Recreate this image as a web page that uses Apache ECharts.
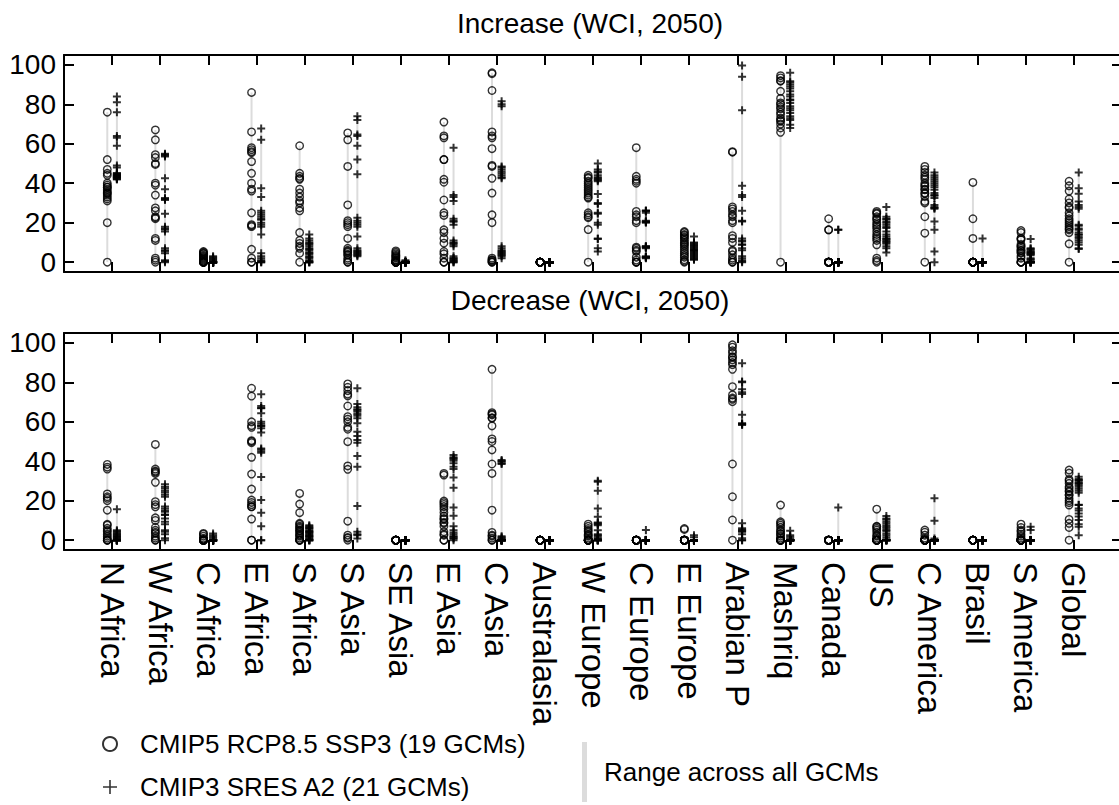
<!DOCTYPE html>
<html>
<head>
<meta charset="utf-8">
<script src="https://cdn.jsdelivr.net/npm/echarts@6/dist/echarts.min.js"></script>
<style>html,body{margin:0;padding:0;background:#fff}#chart{width:1119px;height:805px}</style>
</head>
<body>
<div id="chart"></div>
<script>
// ---------------- data ----------------
const regions = ['N Africa','W Africa','C Africa','E Africa','S Africa','S Asia','SE Asia','E Asia','C Asia','Australasia','W Europe','C Europe','E Europe','Arabian P','Mashriq','Canada','US','C America','Brasil','S America','Global'];
const yTicks = [0, 20, 40, 60, 80, 100];
const nameC5 = 'CMIP5 RCP8.5 SSP3 (19 GCMs)';
const nameC3 = 'CMIP3 SRES A2 (21 GCMs)';
const nameRange = 'Range across all GCMs';

// Increase (WCI, 2050) - CMIP5, 19 GCMs per region
const incCMIP5 = [
  [76,52,47,45,44,40,39,38,38,37,36,35,35,34,33,32,31,20,0],
  [67,62,54.5,53,50,49.5,40,39,34,27.5,26,23,22.5,22,12,11,2,1,0],
  [5.4,5,4.5,4.2,3.5,3,2.5,2,1.5,1,0.5,0,0,0,0,0,0,0,0],
  [86,66,58,57,56,55.5,51,45,40,37,36,25,19,18.5,18,6.5,2,0,0],
  [59,45,43.5,42.5,42,37,35,33,31,30,27.5,26,15,11,9.5,8,7,4.5,0],
  [65.5,62,48.5,29,21,20,19,18,12,7,6,5.5,5,4,3.5,2,1,0,0],
  [5.7,5,4.2,3.5,3,2.5,2,1.2,1,0.5,0,0,0,0,0,0,0,0,0],
  [71,64,63,52,52,42,40.5,31.5,25,23.7,16.4,15,12,9.6,5.4,4.2,2,0,0],
  [96,95.5,87,66,64,63,57.5,49,48.5,42.5,35,24,20,2,1.2,1,0.5,0,0],
  [0,0,0,0,0,0,0,0,0,0,0,0,0,0,0,0,0,0,0],
  [44,43,42.5,41,40,39,38,37,36,35,34,33,32.5,25,24,23,22.5,16.5,0],
  [58,43.5,42,41,40,25.7,24,23,21,20,7.6,7,6,5.4,2.5,1,0,0,0],
  [15.5,15,14,13.5,12.7,12,11,10,9.3,8.5,7.6,6.5,5.4,4.5,3.4,2.5,1.2,0.5,0],
  [56,55.7,28,27,25.7,24,23,21,20,13.4,12,10,6,5.4,3.7,2,1,0,0],
  [94.5,93.4,92,91.7,86.6,83,80.7,80,78.7,77.7,76,74.8,73,72,71.4,70,68,65.8,0],
  [22,16.4,16.4,0,0,0,0,0,0,0,0,0,0,0,0,0,0,0,0],
  [25.7,25,24.5,23,22,21.5,20,19,18,17,15.5,14,13,12,11,8.8,2,0.8,0],
  [48.5,47,45.5,44,43,42,40,39,38.4,37,36.7,35,34.7,33.3,30.8,30,23,14.7,0],
  [40.4,22,12,0,0,0,0,0,0,0,0,0,0,0,0,0,0,0,0],
  [16,15,12,12,11.3,9,8,8,7,6,5.9,5,4.6,3,2,0,0,0,0],
  [41,38.7,36,32,30,28,27.4,25,23.5,22,21,20,19,18,17,16.4,15,9.3,0]
];
// Increase (WCI, 2050) - CMIP3, 21 GCMs per region
const incCMIP3 = [
  [84,81,76,64,63,59,49,48,45,45,44.5,44,44,43.5,43,43,43,42.5,42,42,44],
  [55,54.5,54,53.5,42.5,37,32.5,32,31.5,24.5,18,17,16.5,15.5,7,6,5.5,4.5,1,0.5,0],
  [3,2.5,2,1.5,1,0.5,0,0,0,0,0,0,0,0,0,0,0,0,0,0,0],
  [67.7,62,37.5,33,26,25,24,23,22,21.5,20,19,18,14,4.5,3,2,1,0.5,0,0],
  [14,12,11,10,9.5,9,8,7,6.5,6,5,4.5,4,3,2.5,2,1,0.5,0,0,0],
  [74,72,64.7,64,59,52,44.5,22.5,21,20,19,18,13,7,6,5.5,5,4.5,4,3.5,3],
  [1,0.5,0,0,0,0,0,0,0,0,0,0,0,0,0,0,0,0,0,0,0],
  [58,34,33,31,22,21,20.5,19,11,10,9.6,9,8,3,2,2,1.2,1,0.5,0,0],
  [81.5,80,79,48.5,48,47,46,45,44,43,42.5,8,7,6,5.5,5,4.5,4,3.5,3,2],
  [0,0,0,0,0,0,0,0,0,0,0,0,0,0,0,0,0,0,0,0,0],
  [50,47,46,45.5,44,43,42.5,42,41.5,41,34.5,30,29.5,25,24.5,20,19,12,11.7,7,5.4],
  [26,26,25,21,20.5,20.5,20,8,8,7.6,7.6,7,3,2.5,2.5,2.5,2.5,2,20.5,26,7.6],
  [13,10,9.6,9,8.5,8,7.5,7,6.5,6,6,5.5,5,4.5,4,3.5,3,2.5,2,1.5,1.2],
  [99.7,94,77,38.7,34,33,26,21,20.6,12,11,10.5,9,8.8,7,6,3,2,1,0.3,0],
  [96,91.7,91,90,89,88,86.6,85,84,82.4,82,80.7,79,78,77,75.6,74,73,72,69.7,68],
  [16.4,16.4,0,0,0,0,0,0,0,0,0,0,0,0,0,0,0,0,0,0,0],
  [28,23,22,21.8,20.6,20,19,18,17.3,15.5,14,13,12,11.7,11,10.5,10,9.3,8,7,4.9],
  [45.5,44,43,42,41,40,39,38,36.7,35,34,33.7,32.5,29,28,27.4,27,20.6,16.4,5.4,0],
  [12,0,0,0,0,0,0,0,0,0,0,0,0,0,0,0,0,0,0,0,0],
  [11.7,7,6.6,6,5.4,5,4.8,4.2,4,3.5,2,1.5,1,0,0,0,0,0,0,0,0],
  [45.5,37.5,34.7,30.8,29,28,27,19,18.4,17,16.4,15,14,13.9,12.7,12,11,10,8.8,7,6.6]
];
// Decrease (WCI, 2050) - CMIP5, 19 GCMs per region
const decCMIP5 = [
  [38.4,37,36,23.4,22,21.2,20,15.2,8,7.6,6,5,4.2,3,2,1,0,0,0],
  [48.5,36,35,34.5,33.8,29.3,19.5,18,16.9,11.3,10,6.4,5,4,3.4,2,1,0,0],
  [3.4,3,2,1,0.5,0,0,0,0,0,0,0,0,0,0,0,0,0,0],
  [77,73,60,58,57.2,50.4,50,49.4,42,33.5,25.9,20.3,19.1,18,17,16.9,10.7,0,0],
  [23.7,18.3,13.9,8.5,8,7.1,6.5,5.9,5,4.7,4,3,2.5,2,1,0,0,0,0],
  [79.2,77.5,75.8,74,73.1,68,62.6,61.3,60,57.2,56.2,49.9,37.6,35.9,9.6,2.5,1.4,1,0],
  [0,0,0,0,0,0,0,0,0,0,0,0,0,0,0,0,0,0,0],
  [33.8,33,19.8,19,18.1,17,15.7,14,12.2,11,10.5,9,8.5,7,4.2,3,2.5,0,0],
  [86.6,64.6,64,63.5,62,61.8,57.9,51.3,50,45.7,38.6,33.8,15.2,3.9,2.5,2,1,0,0],
  [0,0,0,0,0,0,0,0,0,0,0,0,0,0,0,0,0,0,0],
  [8.1,7,5.9,5,4.2,3,2.5,2,1,0,0,0,0,0,0,0,0,0,0],
  [0,0,0,0,0,0,0,0,0,0,0,0,0,0,0,0,0,0,0],
  [5.9,5.4,0,0,0,0,0,0,0,0,0,0,0,0,0,0,0,0,0],
  [99,97.8,96,94.8,93,92.7,91.4,90,89,86.6,77.8,73.6,72,71.4,70.2,38.6,22,10.2,0],
  [17.8,9.3,8.5,7.6,6.5,5.1,4.5,3.4,3,2,1,0,0,0,0,0,0,0,0],
  [0,0,0,0,0,0,0,0,0,0,0,0,0,0,0,0,0,0,0],
  [15.7,7,6.8,6,5.1,4,2.5,2,1,0,0,0,0,0,0,0,0,0,0],
  [5.1,4,2.5,1,0,0,0,0,0,0,0,0,0,0,0,0,0,0,0],
  [0,0,0,0,0,0,0,0,0,0,0,0,0,0,0,0,0,0,0],
  [8.1,6.4,5,4.2,3,2,1,0,0,0,0,0,0,0,0,0,0,0,0],
  [35.5,34,30.8,30,28.8,27,26.2,25,24.5,23,22.8,21.2,20,19,17.8,10.5,8.5,6.4,0]
];
// Decrease (WCI, 2050) - CMIP3, 21 GCMs per region
const decCMIP3 = [
  [15.7,5,4.5,4,3.4,3,2.5,2,1.7,1.2,0.8,0.5,0,0,0,0,0,0,0,0,0],
  [28.3,27,26.2,25,24.2,23,22,17,16,15,14.4,13,12.7,11,9.3,8,5,4.2,3,1,0],
  [3.4,2.5,1.7,1,0,0,0,0,0,0,0,0,0,0,0,0,0,0,0,0,0],
  [74,68,67,66.8,64.3,60,59,58,57.9,56.7,54.5,46.5,46,45,44.3,32,20.3,13.9,7.1,0,0],
  [7.6,7,6.5,6,5.9,5,4.5,4.2,4,3.5,3,2.5,2,2,1.5,0.8,0.5,0,0,0,0],
  [77,69,67.3,66.3,65.8,65.1,64,63,61.8,59.2,55,52.8,50.8,49.4,42.6,37.2,17.3,4.2,3,2.5,0.8],
  [0,0,0,0,0,0,0,0,0,0,0,0,0,0,0,0,0,0,0,0,0],
  [43.1,42,41.5,41,40.3,39,37.2,36,31.8,26.6,16.6,12.4,7.1,5,3.9,3,2,1.7,1,0.8,0],
  [40.6,40,39.8,39,38.6,2,1.5,1,0.5,0,0,0,0,0,0,0,0,0,0,0,0],
  [0,0,0,0,0,0,0,0,0,0,0,0,0,0,0,0,0,0,0,0,0],
  [30.1,29.6,25,16.1,11.8,9,8.5,8,7.6,5,3,2.5,2,1,0.8,0,0,0,0,0,0],
  [5.1,0,0,0,0,0,0,0,0,0,0,0,0,0,0,0,0,0,0,0,0],
  [2.5,1.4,0,0,0,0,0,0,0,0,0,0,0,0,0,0,0,0,0,0,0],
  [89.7,80.4,80,76.5,75,74.1,63.5,59.2,59,58.8,58.4,8.5,6,5.4,5,4.5,4.2,3,1,0,0],
  [4.7,2.5,1.7,0.8,0,0,0,0,0,0,0,0,0,0,0,0,0,0,0,0,0],
  [16.6,0,0,0,0,0,0,0,0,0,0,0,0,0,0,0,0,0,0,0,0],
  [12.2,11,10.5,9.5,8.5,7.5,6.8,6,5.1,4.5,3.4,2.5,1.5,0.5,0,0,0,0,0,0,0],
  [21.2,9.8,0.8,0,0,0,0,0,0,0,0,0,0,0,0,0,0,0,0,0,0],
  [0,0,0,0,0,0,0,0,0,0,0,0,0,0,0,0,0,0,0,0,0],
  [6.8,5.1,0,0,0,0,0,0,0,0,0,0,0,0,0,0,0,0,0,0,0],
  [32.1,31,30.5,30,29,28.8,28,27.1,26,25,24,18,17.8,16.1,15,13.5,12,10.2,8,6.8,2.5]
];

// ---------------- chart ----------------
const FONT = 'Liberation Sans, Arial, Helvetica, sans-serif';
const OFF = 0.1;               // horizontal offset of the two model sets
const xTicks = regions.map((_, i) => i + 1);
const plusPath = 'path://M3,0H5V3H8V5H5V8H3V5H0V3H3Z';
const plusLegend = 'path://M6.2,0H7.8V6.2H14V7.8H7.8V14H6.2V7.8H0V6.2H6.2Z';

function points(sets, off) {
  const out = [];
  sets.forEach((vals, i) => vals.forEach(v => out.push([i + 1 + off, v])));
  return out;
}
function ranges(sets, off) {
  return sets.map((vals, i) => [i + 1 + off, Math.min(...vals), Math.max(...vals)]);
}
function renderRange(params, api) {
  const x = api.value(0);
  const p1 = api.coord([x, api.value(1)]);
  const p2 = api.coord([x, api.value(2)]);
  return { type: 'line', shape: { x1: p1[0], y1: p1[1], x2: p2[0], y2: p2[1] },
           style: { stroke: '#dcdcdc', lineWidth: 2 } };
}

const axisLine = { show: true, onZero: false, lineStyle: { color: '#000', width: 2 } };
const tick = (vals) => ({ show: true, inside: true, length: 10, customValues: vals,
                          lineStyle: { color: '#000', width: 2 } });

function xAxis(grid, pos, labels) {
  return {
    type: 'value', gridIndex: grid, position: pos, min: 0, max: 22,
    axisLine, axisTick: tick(xTicks), splitLine: { show: false },
    axisLabel: labels ? {
      show: true, customValues: xTicks, rotate: -90, margin: 12,
      fontSize: 33, fontFamily: FONT, color: '#000',
      formatter: v => regions[Math.round(v) - 1] || ''
    } : { show: false }
  };
}
function yAxis(grid, pos, labels) {
  return {
    type: 'value', gridIndex: grid, position: pos, min: -5, max: 105,
    axisLine, axisTick: tick(yTicks), splitLine: { show: false },
    axisLabel: labels ? { show: true, customValues: yTicks, margin: 8,
      fontSize: 28, fontFamily: FONT, color: '#000' } : { show: false }
  };
}

const circleStyle = { color: 'rgba(0,0,0,0)', borderColor: '#000', borderWidth: 1.4 };

function panelSeries(idx, c5, c3) {
  return [
    { type: 'custom', name: nameRange, xAxisIndex: idx * 2, yAxisIndex: idx * 2,
      renderItem: renderRange, data: ranges(c5, -OFF), z: 1, itemStyle: { color: '#dcdcdc' }, silent: true },
    { type: 'custom', name: nameRange, xAxisIndex: idx * 2, yAxisIndex: idx * 2,
      renderItem: renderRange, data: ranges(c3, OFF), z: 1, itemStyle: { color: '#dcdcdc' }, silent: true },
    { type: 'scatter', name: nameC5, xAxisIndex: idx * 2, yAxisIndex: idx * 2,
      symbol: 'circle', symbolSize: 7.5, itemStyle: circleStyle, data: points(c5, -OFF), z: 3 },
    { type: 'scatter', name: nameC3, xAxisIndex: idx * 2, yAxisIndex: idx * 2,
      symbol: plusPath, symbolSize: 8, itemStyle: { color: '#000' }, data: points(c3, OFF), z: 4 }
  ];
}

const chart = echarts.init(document.getElementById('chart'), null, { renderer: 'svg' });
chart.setOption({
  animation: false,
  backgroundColor: '#fff',
  title: [
    { text: 'Increase (WCI, 2050)', left: 590, top: 9, textAlign: 'center', padding: 0,
      textStyle: { fontSize: 28, fontWeight: 'normal', fontFamily: FONT, color: '#000' } },
    { text: 'Decrease (WCI, 2050)', left: 590, top: 286, textAlign: 'center', padding: 0,
      textStyle: { fontSize: 28, fontWeight: 'normal', fontFamily: FONT, color: '#000' } }
  ],
  grid: [
    { left: 64, top: 55, width: 1058, height: 217, outerBoundsMode: 'none', containLabel: false },
    { left: 64, top: 333, width: 1058, height: 217, outerBoundsMode: 'none', containLabel: false }
  ],
  xAxis: [xAxis(0, 'bottom', false), xAxis(0, 'top', false), xAxis(1, 'bottom', true), xAxis(1, 'top', false)],
  yAxis: [yAxis(0, 'left', true), yAxis(0, 'right', false), yAxis(1, 'left', true), yAxis(1, 'right', false)],
  legend: [
    { orient: 'vertical', left: 102, top: 729, itemWidth: 14, itemHeight: 14, itemGap: 13,
      selectedMode: false, padding: 0,
      textStyle: { fontSize: 26, fontFamily: FONT, color: '#000', lineHeight: 30, padding: [0, 0, 0, 18] },
      data: [
        { name: nameC5, icon: 'circle', itemStyle: { color: 'rgba(0,0,0,0)', borderColor: '#000', borderWidth: 2 } },
        { name: nameC3, icon: plusLegend, itemStyle: { color: '#000', borderWidth: 0 } }
      ] },
    { orient: 'vertical', left: 582, top: 742, itemWidth: 5, itemHeight: 60,
      selectedMode: false, padding: 0,
      textStyle: { fontSize: 26, fontFamily: FONT, color: '#000', padding: [0, 0, 18, 12] },
      data: [{ name: nameRange, icon: 'rect', itemStyle: { color: '#dcdcdc' } }] }
  ],
  series: [].concat(panelSeries(0, incCMIP5, incCMIP3), panelSeries(1, decCMIP5, decCMIP3))
});
</script>
</body>
</html>
